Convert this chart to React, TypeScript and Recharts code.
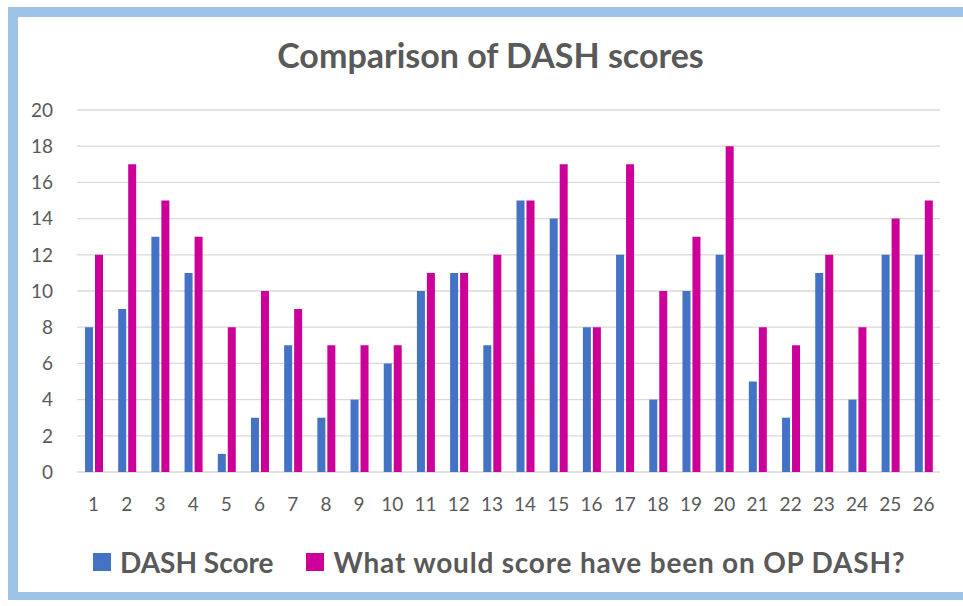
import React from "react";
import { BarChart, Bar, XAxis, YAxis, CartesianGrid } from "recharts";

// ---- data ----
const CATEGORIES = Array.from({ length: 26 }, (_, i) => String(i + 1));
const DASH_SCORE = [8, 9, 13, 11, 1, 3, 7, 3, 4, 6, 10, 11, 7, 15, 14, 8, 12, 4, 10, 12, 5, 3, 11, 4, 12, 12];
const OP_DASH = [12, 17, 15, 13, 8, 10, 9, 7, 7, 7, 11, 11, 12, 15, 17, 8, 17, 10, 13, 18, 8, 7, 12, 8, 14, 15];
const Y_TICKS = [0, 2, 4, 6, 8, 10, 12, 14, 16, 18, 20];

const SERIES = [
  { key: "dash", name: "DASH Score", color: "#4472C4" },
  { key: "op", name: "What would score have been on OP DASH?", color: "#CC0099" },
];

const data = CATEGORIES.map((c, i) => ({ cat: c, dash: DASH_SCORE[i], op: OP_DASH[i] }));

const FONT = "Lato, 'Open Sans', sans-serif";
const TEXT = "#595959";
const BORDER = "#9DC3E6";

function ChartLegend() {
  return (
    <div style={{ position: "absolute", left: 93, top: 540, display: "flex", alignItems: "center", height: 44 }}>
      {SERIES.map((s, i) => (
        <div key={s.key} style={{ display: "flex", alignItems: "center", marginLeft: i ? 33 : 0 }}>
          <span style={{ width: 18, height: 18, background: s.color, display: "inline-block", marginRight: 9 }} />
          <span
            style={{
              fontSize: 28,
              fontWeight: 700,
              color: TEXT,
              fontFamily: FONT,
              whiteSpace: "nowrap",
              letterSpacing: i ? 0.8 : 0,
            }}
          >
            {s.name}
          </span>
        </div>
      ))}
    </div>
  );
}

export default function App() {
  return (
    <div style={{ position: "absolute", left: 0, top: 0, width: 963, height: 606, background: "#fff", overflow: "hidden" }}>
      <div
        style={{
          position: "absolute",
          left: 8,
          top: 7,
          width: 955,
          height: 593,
          borderLeft: `10px solid ${BORDER}`,
          borderTop: `10px solid ${BORDER}`,
          borderBottom: `8px solid ${BORDER}`,
          boxSizing: "border-box",
        }}
      />
      <div
        style={{
          position: "absolute",
          left: 0,
          width: 981,
          top: 35,
          textAlign: "center",
          fontFamily: FONT,
          fontWeight: 700,
          fontSize: 34,
          color: TEXT,
          lineHeight: "40px",
        }}
      >
        Comparison of DASH scores
      </div>
      <div style={{ position: "absolute", left: 0, top: 0 }}>
        <BarChart
          width={963}
          height={606}
          data={data}
          margin={{ top: 110, right: 23, bottom: 94, left: 0 }}
          barGap={2}
          barSize={8}
        >
          <CartesianGrid vertical={false} stroke="#D9D9D9" strokeWidth={1.3} />
          <XAxis
            dataKey="cat"
            height={40}
            axisLine={false}
            tickLine={false}
            tickSize={0}
            tickMargin={26}
            interval={0}
            tick={{ fill: TEXT, fontSize: 19, fontFamily: FONT }}
          />
          <YAxis
            width={77}
            domain={[0, 20]}
            ticks={Y_TICKS}
            axisLine={false}
            tickLine={false}
            tickSize={0}
            tickMargin={24}
            tick={{ fill: TEXT, fontSize: 19, fontFamily: FONT }}
          />
          {SERIES.map((s) => (
            <Bar key={s.key} dataKey={s.key} name={s.name} fill={s.color} isAnimationActive={false} />
          ))}
        </BarChart>
      </div>
      <ChartLegend />
    </div>
  );
}
